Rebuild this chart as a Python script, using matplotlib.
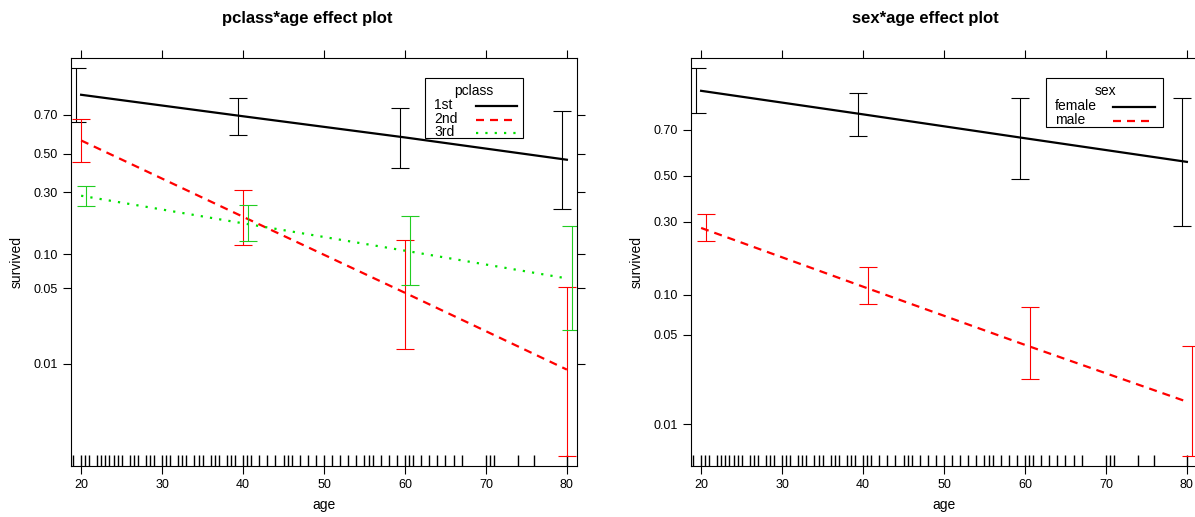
import numpy as np
import matplotlib
matplotlib.use("Agg")
import matplotlib.pyplot as plt
from matplotlib.lines import Line2D
from matplotlib.patches import Rectangle

plt.rcParams['font.family'] = ['Liberation Sans', 'DejaVu Sans']

# ---------------- data ----------------
ages = [20, 40, 60, 80]

pclass_levels = ["1st", "2nd", "3rd"]
fit_1st = [0.784, 0.694, 0.588, 0.467]
fit_2nd = [0.572, 0.201, 0.0455, 0.0088]
fit_3rd = [0.285, 0.179, 0.107, 0.0613]
lo_1st = [0.668, 0.603, 0.422, 0.230]
hi_1st = [0.867, 0.771, 0.730, 0.720]
lo_2nd = [0.456, 0.120, 0.0136, 0.00133]
hi_2nd = [0.680, 0.311, 0.132, 0.0512]
lo_3rd = [0.243, 0.128, 0.0531, 0.0208]
hi_3rd = [0.332, 0.247, 0.205, 0.169]

sex_levels = ["female", "male"]
fit_female = [0.828, 0.757, 0.667, 0.564]
fit_male = [0.276, 0.114, 0.042, 0.0151]
lo_female = [0.760, 0.676, 0.487, 0.285]
hi_female = [0.881, 0.823, 0.809, 0.807]
lo_male = [0.231, 0.085, 0.0226, 0.00555]
hi_male = [0.329, 0.157, 0.0808, 0.0409]

rug_ages = [19, 20, 20.5, 21, 22, 22.5, 23, 23.5, 24, 24.5, 25, 26, 26.5, 27, 28,
            28.5, 29, 30, 30.5, 31, 32, 32.5, 33, 34, 34.5, 35, 36, 36.5, 37, 38,
            38.5, 39, 40, 40.5, 41, 42, 43, 44, 45, 45.5, 46, 47, 48, 49, 50, 51,
            52, 53, 54, 55, 55.5, 56, 57, 58, 59, 60, 60.5, 61, 62, 63, 64, 65, 66,
            67, 70, 70.5, 71, 74, 76, 80]

yticks = [0.01, 0.05, 0.10, 0.30, 0.50, 0.70]
ytick_labels = ["0.01", "0.05", "0.10", "0.30", "0.50", "0.70"]
xticks = [20, 30, 40, 50, 60, 70, 80]

# ---------------- style ----------------
W, H = 1195, 517
BLACK = "#000000"
RED = "#FF0000"
GREEN_LINE = "#00E000"
GREEN_BAR = "#22CC22"
styles = {
    "solid": "-",
    "dashed": (0, (3.6, 2.7)),
    "dotted": (0, (1.0, 3.2)),
}

fig = plt.figure(figsize=(W / 100, H / 100), dpi=100)


def fx(px):
    return px / W


def fy(py):
    return 1 - py / H


def make_axes(left_px, ylim):
    ax = fig.add_axes([fx(left_px), fy(466), 506 / W, 408 / H])
    ax.set_yscale("logit")
    ax.set_xlim(18.75, 81.25)
    ax.set_ylim(*ylim)
    ax.set_yticks(yticks)
    ax.set_yticklabels(ytick_labels)
    ax.yaxis.set_minor_locator(matplotlib.ticker.NullLocator())
    ax.yaxis.set_minor_formatter(matplotlib.ticker.NullFormatter())
    ax.set_xticks(xticks)
    ax.set_xticklabels([str(v) for v in xticks])
    ax.tick_params(direction="out", length=5.5, width=0.8, top=True, right=True,
                   labelsize=9, pad=4, colors="black")
    for s in ax.spines.values():
        s.set_linewidth(0.8)
    ax.set_xlabel("age", fontsize=10, labelpad=5)
    ax.set_ylabel("survived", fontsize=10, labelpad=7)
    ax.vlines(rug_ages, 0, 0.026, transform=ax.get_xaxis_transform(),
              color="black", lw=1.0, clip_on=True)
    return ax


def draw_group(ax, fit, lo, hi, offset, lcolor, bcolor, ls):
    x = np.array(ages, dtype=float)
    ax.plot(x, fit, color=lcolor, lw=1.6, linestyle=ls, clip_on=True)
    xb = x + offset
    ax.vlines(xb, lo, hi, color=bcolor, lw=0.8)
    ax.hlines(lo, xb - 1.15, xb + 1.15, color=bcolor, lw=0.8, clip_on=True)
    ax.hlines(hi, xb - 1.15, xb + 1.15, color=bcolor, lw=0.8, clip_on=True)


def draw_legend(box, title, title_xy, labels, text_x, ys, line_x, colors, lss):
    x0, y0, x1, y1 = box
    fig.add_artist(Rectangle((fx(x0), fy(y1)), fx(x1) - fx(x0), fy(y0) - fy(y1),
                             transform=fig.transFigure, facecolor="white",
                             edgecolor="black", lw=0.8, zorder=5))
    fig.text(fx(title_xy[0]), fy(title_xy[1]), title, ha="center", va="center",
             fontsize=10, zorder=6)
    for lab, y, c, ls in zip(labels, ys, colors, lss):
        fig.text(fx(text_x), fy(y), lab, ha="left", va="center", fontsize=10, zorder=6)
        fig.add_artist(Line2D([fx(line_x[0]), fx(line_x[1])], [fy(y + 1), fy(y + 1)],
                              transform=fig.transFigure, color=c, lw=1.6,
                              linestyle=ls, zorder=6))


# ---------------- left panel ----------------
ax1 = make_axes(71, (0.001076, 0.8903))
draw_group(ax1, fit_1st, lo_1st, hi_1st, -0.6, BLACK, BLACK, styles["solid"])
draw_group(ax1, fit_2nd, lo_2nd, hi_2nd, 0.0, RED, RED, styles["dashed"])
draw_group(ax1, fit_3rd, lo_3rd, hi_3rd, 0.6, GREEN_LINE, GREEN_BAR, styles["dotted"])
fig.text(fx(307), fy(18), "pclass*age effect plot", ha="center", va="center",
         fontsize=12, fontweight="bold")
draw_legend((425, 78, 523, 138), "pclass", (474, 91), pclass_levels, 434,
            [105, 119, 132], (476, 517), [BLACK, RED, GREEN_LINE],
            [styles["solid"], styles["dashed"], styles["dotted"]])

# ---------------- right panel ----------------
ax2 = make_axes(691, (0.004645, 0.8983))
draw_group(ax2, fit_female, lo_female, hi_female, -0.6, BLACK, BLACK, styles["solid"])
draw_group(ax2, fit_male, lo_male, hi_male, 0.6, RED, RED, styles["dashed"])
fig.text(fx(925), fy(18), "sex*age effect plot", ha="center", va="center",
         fontsize=12, fontweight="bold")
draw_legend((1046, 78, 1163, 127), "sex", (1105, 91), sex_levels, 1055,
            [106, 120], (1113, 1155), [BLACK, RED],
            [styles["solid"], styles["dashed"]])

fig.savefig("out.png", dpi=100)
